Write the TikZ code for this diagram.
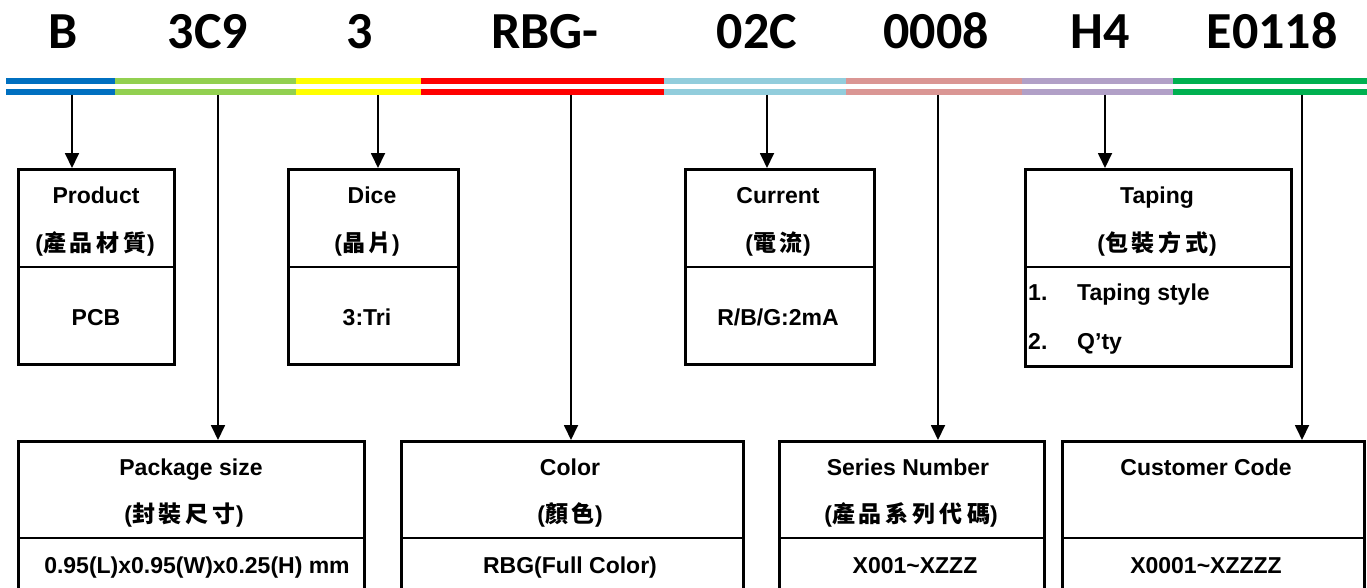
\documentclass[tikz,border=0pt]{standalone}
\usepackage{fontspec}
\setmainfont{Liberation Sans}
\newfontfamily\calib{Carlito}
\newfontfamily\cjk{Noto Sans CJK TC}
\usetikzlibrary{arrows.meta}
\definecolor{cBlue}{HTML}{0070C0}
\definecolor{cLGreen}{HTML}{92D050}
\definecolor{cYellow}{HTML}{FFFF00}
\definecolor{cRed}{HTML}{FF0000}
\definecolor{cCyan}{HTML}{92CDDC}
\definecolor{cPink}{HTML}{DA9694}
\definecolor{cPurple}{HTML}{B1A0C7}
\definecolor{cGreen}{HTML}{00B050}
\newcommand{\zh}[1]{{\cjk\bfseries #1}}
\newcommand{\gp}{\kern4pt}
\begin{document}
\begin{tikzpicture}[x=1pt,y=-1pt,
  code/.style={font=\calib\bfseries\fontsize{52}{52}\selectfont, anchor=base, inner sep=0pt},
  box/.style={draw, line width=2.8pt, anchor=north west, inner sep=0pt},
  txt/.style={font=\bfseries\fontsize{23}{23}\selectfont, anchor=base, inner sep=0pt},
  ltxt/.style={txt, anchor=base west},
  link/.style={line width=1.8pt, -{Triangle[width=14pt,length=15pt]}},
  sep/.style={line width=2.8pt}]
\useasboundingbox (0,0) rectangle (1367,587);
\clip (0,0) rectangle (1367,587);

% code letters
\node[code] (cB) at (63,48) {B};
\node[code] (c3C9) at (208,48) {3C9};
\node[code] (c3) at (360,48) {3};
\node[code] (cRBG) at (545,48) {RBG-};
\node[code] (c02C) at (757,48) {02C};
\node[code] (c0008) at (936,48) {0008};
\node[code] (cH4) at (1100,48) {H4};
\node[code] (cE) at (1272,48) {E0118};

% double colour bars
\foreach \a/\b/\c in {6/115/cBlue, 115/296/cLGreen, 296/421/cYellow, 421/664/cRed, 664/846/cCyan, 846/1022/cPink, 1022/1173/cPurple, 1173/1367/cGreen}{
  \fill[\c] (\a,78) rectangle (\b,83.7);
  \fill[\c] (\a,89) rectangle (\b,94.7);
}

% top boxes
\node[box, minimum width=156pt, minimum height=195pt] (prod) at (17,168) {};
\node[box, minimum width=170pt, minimum height=195pt] (dice) at (287,168) {};
\node[box, minimum width=189pt, minimum height=195pt] (curr) at (684,168) {};
\node[box, minimum width=266pt, minimum height=197pt] (tape) at (1024,168) {};
\foreach \n in {prod,dice,curr,tape}{
  \draw[sep] (\n.west |- 0,267) -- (\n.east |- 0,267);
}

% bottom boxes
\node[box, minimum width=346pt, minimum height=170pt] (pack) at (17,440) {};
\node[box, minimum width=342pt, minimum height=170pt] (colr) at (400,440) {};
\node[box, minimum width=265pt, minimum height=170pt] (seri) at (778,440) {};
\node[box, minimum width=302pt, minimum height=170pt] (cust) at (1061,440) {};
\foreach \n in {pack,colr,seri,cust}{
  \draw[sep] (\n.west |- 0,538) -- (\n.east |- 0,538);
}

% texts top boxes
\node[txt] (t1) at (96,203) {Product};
\node[txt] (t2) at (95,251) {(\zh{產\gp 品\gp 材\gp 質})};
\node[txt] (t3) at (96,325) {PCB};
\node[txt] (t4) at (372,203) {Dice};
\node[txt] (t5) at (367,251) {(\zh{晶\gp 片})};
\node[txt] (t6) at (367,325) {3:Tri};
\node[txt] (t7) at (778,203) {Current};
\node[txt] (t8) at (778,251) {(\zh{電\gp 流})};
\node[txt] (t9) at (778,325) {R/B/G:2mA};
\node[txt] (t10) at (1157,203) {Taping};
\node[txt] (t11) at (1157,251) {(\zh{包\gp 裝\gp 方\gp 式})};
\node[ltxt] (t12) at (1028,300) {1.};
\node[ltxt] (t13) at (1077,300) {Taping style};
\node[ltxt] (t14) at (1028,349) {2.};
\node[ltxt] (t15) at (1077,349) {Q’ty};

% texts bottom boxes
\node[txt] (b1) at (191,475) {Package size};
\node[txt] (b2) at (184,522) {(\zh{封\gp 裝\gp 尺\gp 寸})};
\node[txt] (b3) at (197,573) {0.95(L)x0.95(W)x0.25(H) mm};
\node[txt] (b4) at (570,475) {Color};
\node[txt] (b5) at (570,522) {(\zh{顏\gp 色})};
\node[txt] (b6) at (570,573) {RBG(Full Color)};
\node[txt] (b7) at (908,475) {Series Number};
\node[txt] (b8) at (911,522) {(\zh{產\gp 品\gp 系\gp 列\gp 代\gp 碼})};
\node[txt] (b9) at (915,573) {X001\char`\~XZZZ};
\node[txt] (b10) at (1206,475) {Customer Code};
\node[txt] (b11) at (1206,573) {X0001\char`\~XZZZZ};

% connectors
\coordinate (aB) at (72,94.7);
\coordinate (a3C9) at (218,94.7);
\coordinate (a3) at (378,94.7);
\coordinate (aRBG) at (571,94.7);
\coordinate (a02C) at (767,94.7);
\coordinate (a0008) at (938,94.7);
\coordinate (aH4) at (1105,94.7);
\coordinate (aE) at (1302,94.7);
\draw[link] (aB) -- (aB |- prod.north);
\draw[link] (a3C9) -- (a3C9 |- pack.north);
\draw[link] (a3) -- (a3 |- dice.north);
\draw[link] (aRBG) -- (aRBG |- colr.north);
\draw[link] (a02C) -- (a02C |- curr.north);
\draw[link] (a0008) -- (a0008 |- seri.north);
\draw[link] (aH4) -- (aH4 |- tape.north);
\draw[link] (aE) -- (aE |- cust.north);
\end{tikzpicture}
\end{document}
